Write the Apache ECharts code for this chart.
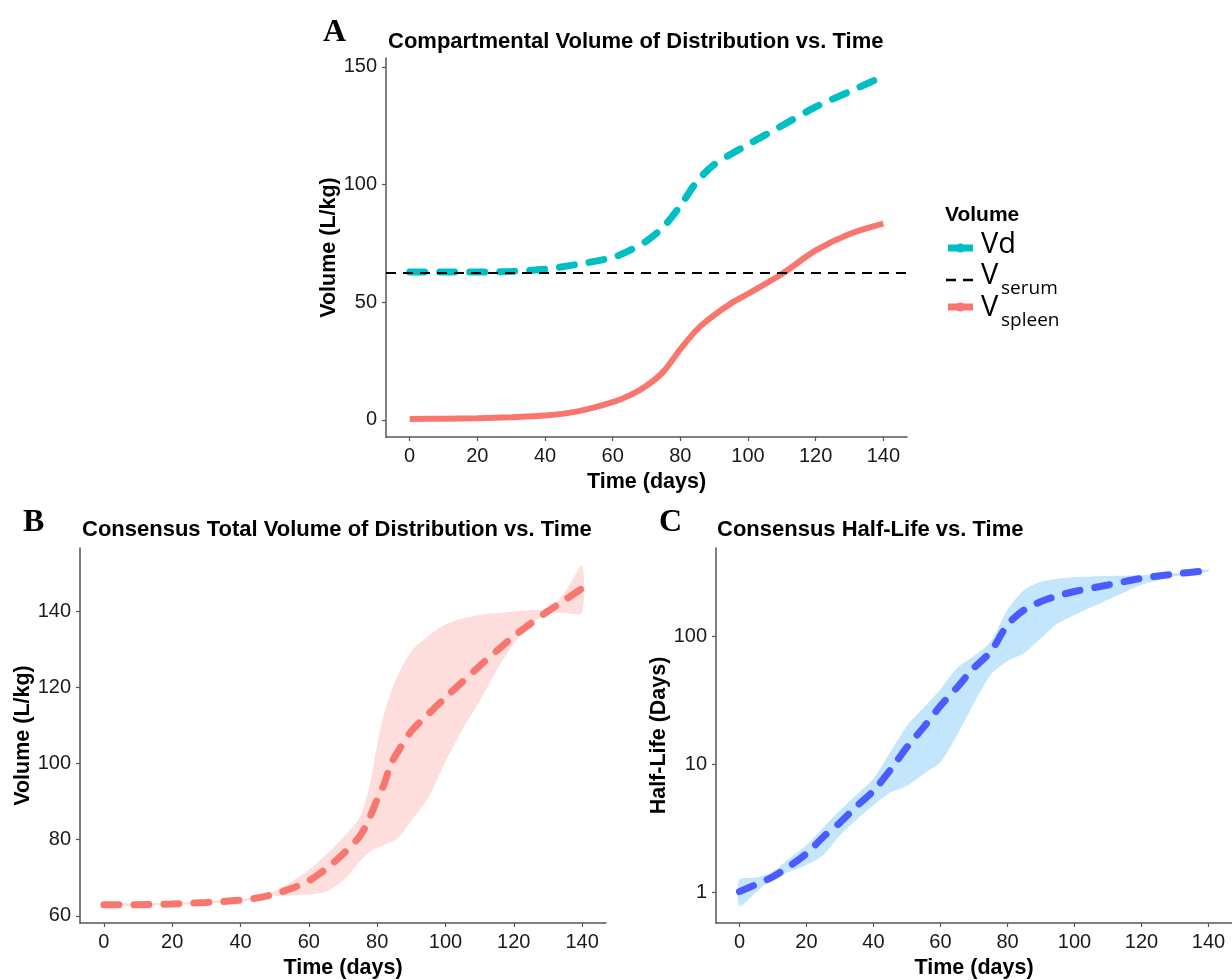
<!DOCTYPE html>
<html>
<head>
<meta charset="utf-8">
<script src="https://cdn.jsdelivr.net/npm/echarts@6/dist/echarts.min.js"></script>
<style>
html,body{margin:0;padding:0;background:#fff;}
#chart{width:1232px;height:980px;}
</style>
</head>
<body>
<div id="chart"></div>
<script>
// ---------- Data ----------
// Panel A
const daysA = [0,10,20,30,40,50,60,65,70,75,80,85,90,95,100,110,120,130,140];
const vdA = [62.8,62.8,62.8,63.1,64.0,66.2,69.0,72.0,76.0,82.0,91.0,101.5,108.5,113.0,117.0,125.0,133.0,139.5,146.0];
const vSpleenA = [0.4,0.5,0.7,1.1,1.8,3.7,7.5,10.4,14.5,20.5,30.0,38.5,44.5,49.5,53.6,62.0,72.0,79.0,83.4];
const vSerum = 62.7;

// Panel B
const daysB = [0,10,20,30,40,45,50,55,60,65,70,75,78,80,82,84,86,90,95,100,105,110,115,120,125,130,135,140];
const meanB = [62.9,62.9,63.1,63.5,64.1,64.7,65.7,67.2,69.2,72.3,76.2,81.0,86.2,90.6,94.5,99.8,103.0,108.5,113.0,117.3,121.5,125.6,129.6,133.4,136.8,140.0,143.0,146.0];
const upperB = [63.2,63.2,63.4,63.8,64.4,65.2,66.5,69.0,72.0,76.0,80.5,86.0,95.0,105.0,113.0,118.5,123.0,129.5,133.5,136.5,138.0,139.0,139.5,140.0,140.3,140.6,145.0,152.0];
const lowerB = [62.6,62.6,62.8,63.2,63.8,64.3,65.2,65.3,65.6,66.3,69.2,74.4,76.9,77.8,78.6,79.4,80.3,85.0,91.0,100.5,109.0,116.4,124.5,131.5,136.5,139.3,139.5,139.5];

// Panel C
const daysC = [0,5,10,15,20,25,30,35,40,45,50,55,60,65,70,75,80,85,90,95,100,110,120,130,140];
const meanC = [1.01,1.15,1.32,1.6,2.0,2.7,3.5,4.7,6.2,9.0,13.6,19.5,28.6,40,56.7,76,123,161,187,207,224,252,284,307,326];
const upperC = [1.25,1.3,1.45,1.85,2.33,3.2,4.36,5.8,7.7,12.4,20,27.7,38.5,56.7,70,91,161,231,267,282,290,296,300,312,335];
const lowerC = [0.78,1.0,1.28,1.45,1.63,1.95,2.79,3.7,4.77,6.0,6.8,8.4,10.4,17,30,50,64,74,97,126,147,193,252,295,320];

// Tick labels
const timeTicks = [0,20,40,60,80,100,120,140];
const volTicksA = [0,50,100,150];
const volTicksB = [60,80,100,120,140];
const halfLifeTicks = [1,10,100];

// ---------- Helpers ----------
const pairs = (xs, ys) => xs.map((x, i) => [x, ys[i]]);
const FONT = 'Liberation Sans';
const axisColor = '#555';
const TICK_FS = 20;
const NAME_FS = 21.5;

function xAxisDef(gridIndex) {
  return {
    type: 'value', gridIndex, min: -7, max: 147,
    name: 'Time (days)', nameLocation: 'middle', nameGap: 34,
    nameTextStyle: {fontFamily: FONT, fontWeight: 'bold', fontSize: NAME_FS, color: '#000'},
    axisLine: {show: true, onZero: false, lineStyle: {color: axisColor, width: 1.5}},
    axisTick: {show: true, length: 4, customValues: timeTicks, lineStyle: {color: axisColor, width: 1.2}},
    axisLabel: {customValues: timeTicks, fontFamily: FONT, fontSize: TICK_FS, color: '#1a1a1a', margin: 9},
    splitLine: {show: false}
  };
}
function yAxisDef(gridIndex, opts) {
  return Object.assign({
    type: 'value', gridIndex,
    nameLocation: 'middle',
    nameTextStyle: {fontFamily: FONT, fontWeight: 'bold', fontSize: NAME_FS, color: '#000'},
    axisLine: {show: true, onZero: false, lineStyle: {color: axisColor, width: 1.5}},
    axisTick: {show: true, length: 4, customValues: opts.ticks, lineStyle: {color: axisColor, width: 1.2}},
    axisLabel: {customValues: opts.ticks, fontFamily: FONT, fontSize: TICK_FS, color: '#1a1a1a', margin: 9},
    splitLine: {show: false}
  }, opts.extra);
}
function bandSeries(xi, yi, xs, lo, hi, color) {
  return {
    type: 'custom', xAxisIndex: xi, yAxisIndex: yi, silent: true, clip: true, z: 1,
    data: [[xs[0], lo[0]]],
    renderItem: function (params, api) {
      const pts = [];
      for (let i = 0; i < xs.length; i++) pts.push(api.coord([xs[i], hi[i]]));
      for (let i = xs.length - 1; i >= 0; i--) pts.push(api.coord([xs[i], lo[i]]));
      return {type: 'polygon', shape: {points: pts, smooth: 0.25}, style: {fill: color}};
    }
  };
}

// ---------- Chart ----------
const chart = echarts.init(document.getElementById('chart'), null, {renderer: 'canvas'});
const titleStyle = {fontFamily: FONT, fontWeight: 'bold', fontSize: 22, color: '#000'};
const letterStyle = {fontFamily: 'Liberation Serif', fontWeight: 'bold', fontSize: 32, color: '#000'};
const LEG_V = '29px "Open Sans"';
const LEG_SUB = '19px "Open Sans"';

const option = {
  backgroundColor: '#fff',
  animation: false,
  title: [
    {text: 'Compartmental Volume of Distribution vs. Time', left: 383, top: 26, textStyle: titleStyle},
    {text: 'Consensus Total Volume of Distribution vs. Time', left: 77, top: 514, textStyle: titleStyle},
    {text: 'Consensus Half-Life vs. Time', left: 712, top: 514, textStyle: titleStyle},
    {text: 'A', left: 318, top: 12, textStyle: letterStyle},
    {text: 'B', left: 18, top: 502, textStyle: letterStyle},
    {text: 'C', left: 654, top: 502, textStyle: letterStyle}
  ],
  grid: [
    {left: 386, top: 58, width: 521, height: 379},
    {left: 80, top: 548, width: 526, height: 377},
    {left: 716, top: 548, width: 520, height: 377}
  ],
  xAxis: [xAxisDef(0), xAxisDef(1), xAxisDef(2)],
  yAxis: [
    yAxisDef(0, {ticks: volTicksA, extra: {min: -7.3, max: 153.8, name: 'Volume (L/kg)', nameGap: 45}}),
    yAxisDef(1, {ticks: volTicksB, extra: {min: 58.1, max: 156.6, name: 'Volume (L/kg)', nameGap: 44}}),
    yAxisDef(2, {ticks: halfLifeTicks, extra: {type: 'log', logBase: 10, min: 0.574, max: 490, name: 'Half-Life (Days)', nameGap: 45}})
  ],
  graphic: [
    {type: 'text', style: {x: 945, y: 215, text: 'Volume', font: 'bold 21px "Liberation Sans"', fill: '#000', verticalAlign: 'middle'}},
    {type: 'line', shape: {x1: 948, y1: 248, x2: 973, y2: 248}, style: {stroke: '#00BFC4', lineWidth: 7}},
    {type: 'circle', shape: {cx: 960.5, cy: 248, r: 4.5}, style: {fill: '#00BFC4'}},
    {type: 'text', style: {x: 981, y: 245, text: 'Vd', font: LEG_V, fill: '#000', verticalAlign: 'middle'}},
    {type: 'line', shape: {x1: 946, y1: 280, x2: 975, y2: 280}, style: {stroke: '#000', lineWidth: 2.5, lineDash: [10, 7]}},
    {type: 'text', style: {x: 981, y: 276, text: 'V', font: LEG_V, fill: '#000', verticalAlign: 'middle'}},
    {type: 'text', style: {x: 1001, y: 289, text: 'serum', font: LEG_SUB, fill: '#000', verticalAlign: 'middle'}},
    {type: 'line', shape: {x1: 948, y1: 307, x2: 973, y2: 307}, style: {stroke: '#F8766D', lineWidth: 7}},
    {type: 'circle', shape: {cx: 960.5, cy: 307, r: 4.5}, style: {fill: '#F8766D'}},
    {type: 'text', style: {x: 981, y: 308, text: 'V', font: LEG_V, fill: '#000', verticalAlign: 'middle'}},
    {type: 'text', style: {x: 1001, y: 321, text: 'spleen', font: LEG_SUB, fill: '#000', verticalAlign: 'middle'}}
  ],
  series: [
    {
      name: 'Vspleen', type: 'line', xAxisIndex: 0, yAxisIndex: 0, data: pairs(daysA, vSpleenA),
      smooth: 0.3, showSymbol: false, z: 3,
      lineStyle: {color: '#F8766D', width: 6},
      markLine: {silent: true, symbol: ['none', 'none'], label: {show: false},
        lineStyle: {color: '#000', width: 2.2, type: [10, 7]}, data: [{yAxis: vSerum}]}
    },
    {
      name: 'Vd', type: 'line', xAxisIndex: 0, yAxisIndex: 0, data: pairs(daysA, vdA),
      smooth: 0.3, showSymbol: false, z: 4,
      lineStyle: {color: '#00BFC4', width: 7, type: [15, 15], cap: 'round'}
    },
    bandSeries(1, 1, daysB, lowerB, upperB, 'rgba(248,118,109,0.24)'),
    {
      name: 'Consensus Vd', type: 'line', xAxisIndex: 1, yAxisIndex: 1, data: pairs(daysB, meanB),
      smooth: 0.3, showSymbol: false, z: 3,
      lineStyle: {color: '#F8766D', width: 7, type: [15, 15], cap: 'round'}
    },
    bandSeries(2, 2, daysC, lowerC, upperC, 'rgba(135,206,250,0.5)'),
    {
      name: 'Half-life', type: 'line', xAxisIndex: 2, yAxisIndex: 2, data: pairs(daysC, meanC),
      smooth: 0.3, showSymbol: false, z: 3,
      lineStyle: {color: '#4A5BFF', width: 7, type: [15, 15], cap: 'round'}
    }
  ]
};
chart.setOption(option);
</script>
</body>
</html>
